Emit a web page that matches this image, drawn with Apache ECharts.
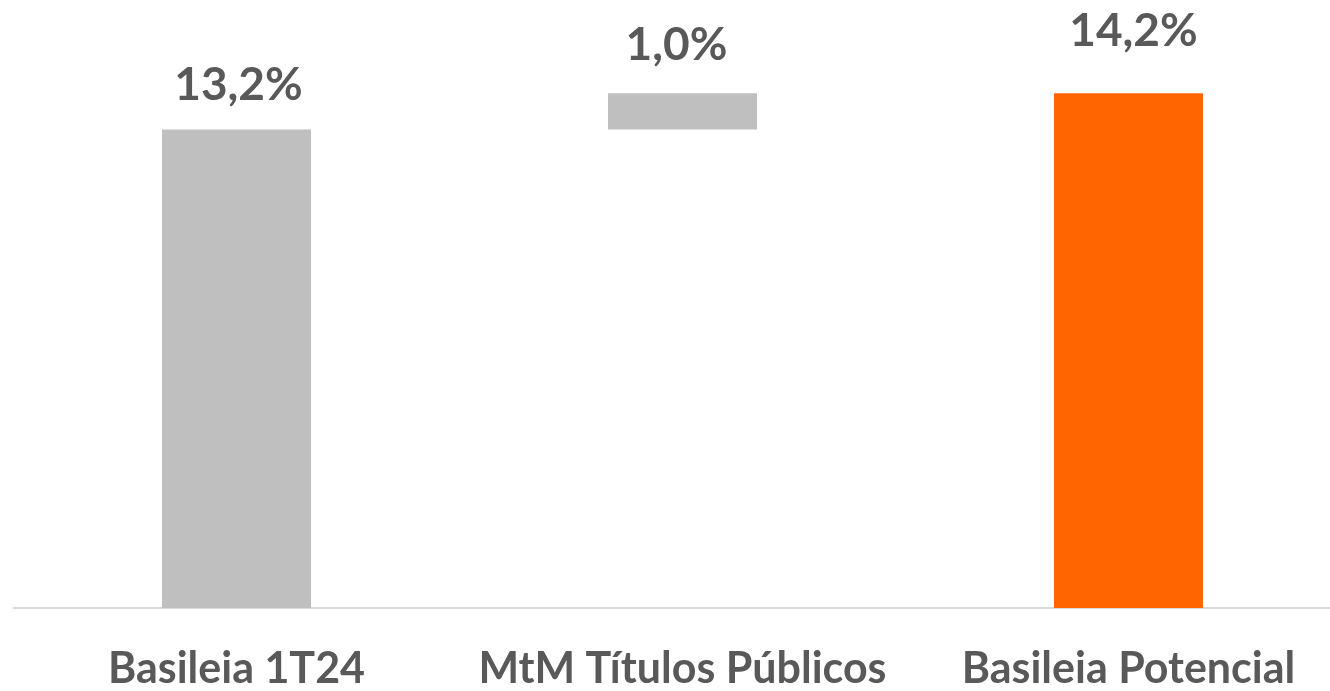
<!DOCTYPE html>
<html>
<head>
<meta charset="utf-8">
<script src="https://cdn.jsdelivr.net/npm/echarts@6/dist/echarts.min.js"></script>
<style>html,body{margin:0;padding:0;background:#fff;overflow:hidden}#c{width:1360px;height:691px}</style>
</head>
<body>
<div id="c"></div>
<script>
const categories = ['Basileia 1T24', 'MtM Títulos Públicos', 'Basileia Potencial'];
const baseValues = [0, 13.2, 0];
const barValues = [13.2, 1.0, 14.2];
const barColors = ['#bfbfbf', '#bfbfbf', '#ff6600'];
const labelGaps = [21, 25, 39];
const labelShifts = [2, -6, 5];

const chart = echarts.init(document.getElementById('c'));
chart.setOption({
  animation: false,
  grid: { left: 13.5, right: 8.5, top: 28, bottom: 76, containLabel: false },
  xAxis: {
    type: 'category',
    data: categories,
    axisLine: { lineStyle: { color: '#d9d9d9', width: 2 } },
    axisTick: { show: false },
    axisLabel: { interval: 0, hideOverlap: false, color: '#595959', fontFamily: 'Lato', fontWeight: 'bold', fontSize: 43, margin: 40 }
  },
  yAxis: { type: 'value', min: 0, max: 16, show: false, splitLine: { show: false } },
  series: [
    {
      type: 'bar', stack: 'w', data: baseValues, barWidth: 149,
      itemStyle: { color: 'transparent' }, silent: true
    },
    {
      type: 'bar', stack: 'w', barWidth: 149,
      data: barValues.map((v, i) => ({
        value: v,
        itemStyle: { color: barColors[i] },
        label: { distance: labelGaps[i], offset: [labelShifts[i], 0] }
      })),
      label: {
        show: true, position: 'top',
        color: '#595959', fontFamily: 'Lato', fontWeight: 'bold', fontSize: 46,
        formatter: p => p.value.toFixed(1).replace('.', ',') + '%'
      }
    }
  ]
});
</script>
</body>
</html>
